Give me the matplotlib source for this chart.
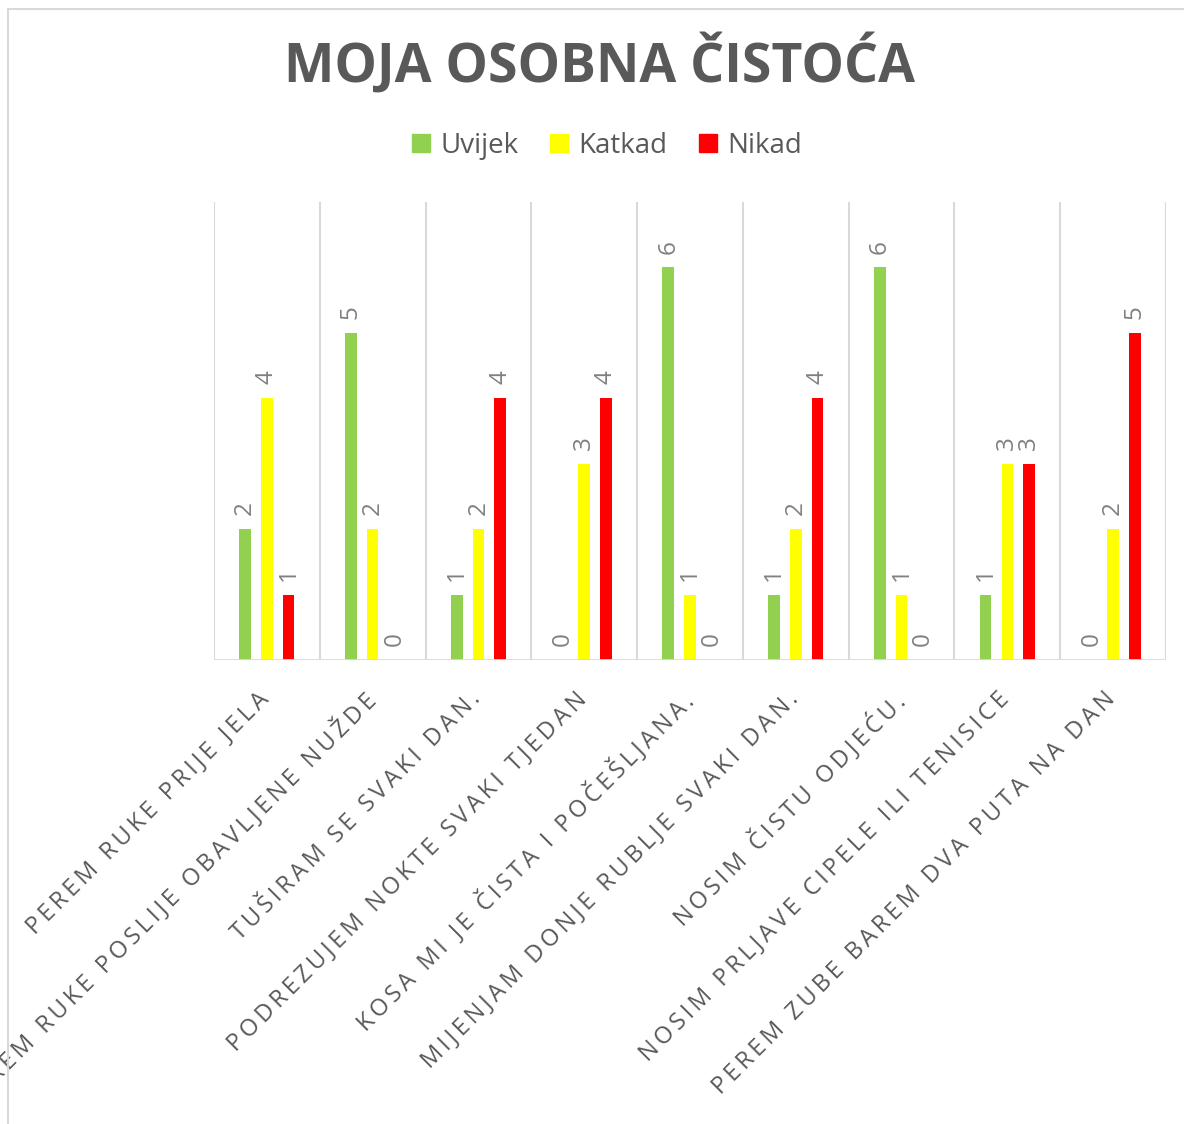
import numpy as np
import matplotlib.pyplot as plt
from matplotlib.lines import Line2D
from matplotlib.transforms import blended_transform_factory, ScaledTranslation

kategorije = ["PEREM RUKE PRIJE JELA",
              "PEREM RUKE POSLIJE OBAVLJENE NUŽDE",
              "TUŠIRAM SE SVAKI DAN.",
              "PODREZUJEM NOKTE SVAKI TJEDAN",
              "KOSA MI JE ČISTA I POČEŠLJANA.",
              "MIJENJAM DONJE RUBLJE SVAKI DAN.",
              "NOSIM ČISTU ODJEĆU.",
              "NOSIM PRLJAVE CIPELE ILI TENISICE",
              "PEREM ZUBE BAREM DVA PUTA NA DAN"]
uvijek = [2, 5, 1, 0, 6, 1, 6, 1, 0]
katkad = [4, 2, 2, 3, 1, 2, 1, 3, 2]
nikad = [1, 0, 4, 4, 0, 4, 0, 3, 5]
serije = ["Uvijek", "Katkad", "Nikad"]
boje = ["#92D050", "#FFFF00", "#FF0000"]

plt.rcParams['font.family'] = ['Open Sans', 'DejaVu Sans']
TEKST = "#595959"


def razmak(s):
    # letter spacing with thin spaces
    return "\u2009".join(s)


fig = plt.figure(figsize=(11.84, 11.24), dpi=100)
fig.patches.append(plt.Rectangle((8 / 1184, -0.1), 1.2, 1 - 9 / 1124 + 0.1,
                                 transform=fig.transFigure, fill=False,
                                 edgecolor="#D9D9D9", linewidth=1.5))

ax = fig.add_axes([214 / 1184, 1 - 660 / 1124, 952 / 1184, 458 / 1124])

x = np.arange(len(kategorije))
sirina = 0.11
pomak = 0.205
for i, (vals, boja) in enumerate(zip([uvijek, katkad, nikad], boje)):
    pos = x + (i - 1) * pomak
    ax.bar(pos, vals, width=sirina, color=boja, zorder=3)
    for p, v in zip(pos, vals):
        ax.annotate(str(v), (p, v), xytext=(0, 10), textcoords="offset points",
                    rotation=90, ha="center", va="bottom", fontsize=17.5,
                    color="#808080")

ax.set_xlim(-0.5, len(kategorije) - 0.5)
ax.set_ylim(0, 7)
for g in np.arange(-0.5, len(kategorije), 1.0):
    ax.axvline(g, color="#D9D9D9", linewidth=1.5, zorder=1)
for s in ax.spines.values():
    s.set_visible(False)
ax.axhline(0, color="#D9D9D9", linewidth=2, zorder=4)
ax.set_yticks([])
ax.set_xticks([])

# category labels, 45 degrees, anchored at top right
trans = blended_transform_factory(ax.transData, ax.transAxes) + \
    ScaledTranslation(-0.10, -0.27, fig.dpi_scale_trans)
for xi, k in zip(x, kategorije):
    ax.text(xi, 0, razmak(k), transform=trans, rotation=45, ha="right",
            va="top", rotation_mode="anchor", fontsize=17, color=TEKST,
            clip_on=False)

fig.text(600 / 1184, 1 - 64 / 1124, "MOJA OSOBNA ČISTOĆA", ha="center",
         va="center", fontsize=38.5, fontweight="bold", color=TEKST)

ruke = [Line2D([], [], linestyle="none", marker="s", markersize=13,
               markerfacecolor=b, markeredgecolor=b) for b in boje]
fig.legend(ruke, serije, loc="center", bbox_to_anchor=(606 / 1184, 1 - 146 / 1124),
           ncol=3, frameon=False, fontsize=20, handlelength=0.8,
           handletextpad=0.3, columnspacing=1.05, labelcolor=TEKST)

fig.savefig("out.png", dpi=100)
